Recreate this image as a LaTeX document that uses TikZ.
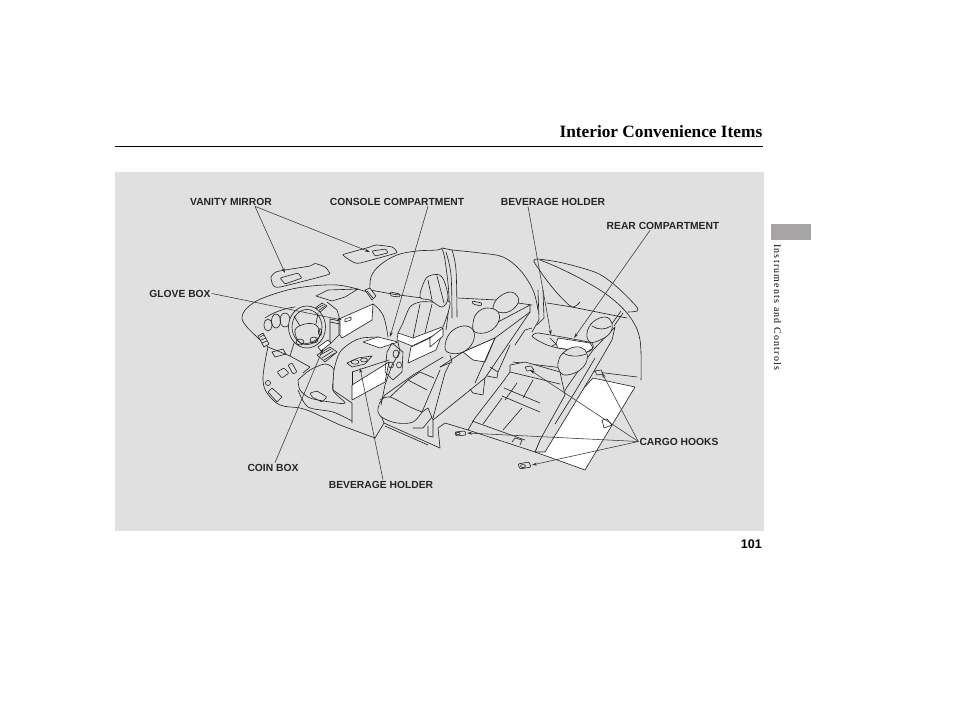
\documentclass[tikz,border=0pt]{standalone}
\usepackage{fontspec}
\setmainfont{Liberation Serif}
\newfontfamily\labelfont{Liberation Sans}
\newfontfamily\tabfont[LetterSpace=12]{Liberation Serif}
\usetikzlibrary{arrows.meta}
\definecolor{panelgray}{HTML}{E0E0E0}
\definecolor{tabgray}{HTML}{A6A4A4}
\tikzset{
  carline/.style={draw=black!88, line width=.6pt, line join=round, line cap=round},
  carfill/.style={carline, fill=panelgray},
  whitefill/.style={carline, fill=white},
  leader/.style={draw=black!80, line width=.55pt, -{Stealth[length=5pt,width=3pt]}},
  leadlabel/.style={font=\labelfont\bfseries\fontsize{10.3}{12}\selectfont, text=black!85, inner sep=1pt}
}
\begin{document}
\begin{tikzpicture}[x=1pt,y=-1pt]
  \useasboundingbox (0,0) rectangle (954,710);
  % page furniture
  \fill[panelgray] (115,172) rectangle (764,531);
  \draw[line width=.7pt] (115,146.8) -- (763,146.8);
  \fill[tabgray] (771,224) rectangle (811,240);
  \node[anchor=base east, inner sep=0pt, font=\bfseries\fontsize{17.3}{20}\selectfont] (title) at (762.5,137.3) {Interior Convenience Items};
  \node[anchor=west, rotate=-90, inner sep=0pt, font=\tabfont\fontsize{10}{12}\selectfont] (tabtext) at (777.5,244) {Instruments and Controls};
  \node[anchor=base east, inner sep=0pt, font=\labelfont\bfseries\fontsize{12.5}{14}\selectfont] (pageno) at (762,548) {101};

  % sun visors
  \draw[carfill] plot[smooth cycle, tension=.35] coordinates {(271,277) (276,272) (285,270) (310,266) (315,263.5) (325,267) (329,272) (327,275) (280,287) (273,285)};
  \draw[carline, rounded corners=1pt] (280,278) -- (298,273) -- (302,278) -- (285,284) -- cycle;
  \draw[carfill] plot[smooth cycle, tension=.35] coordinates {(343,255) (352,252) (370,247) (376,245) (392,247) (397,252) (393,254) (360,263) (353,262)};
  \draw[carline, rounded corners=1pt] (372,251) -- (386,249) -- (388,253) -- (375,256) -- cycle;

  % roof, pillars and hatch
  \draw[carline] plot[smooth, tension=.6] coordinates {(370,292) (371,277) (380,265) (397,255) (417,251) (437,250) (442,248)};
  \draw[carline] plot[smooth, tension=.6] coordinates {(452,250) (480,253) (503,257) (520,270) (533,290) (538,310)};
  \draw[carline] (442,248) -- (452,250);
  \draw[carline] plot[smooth, tension=.6] coordinates {(442,249) (445,260) (449,298) (446,330)};
  \draw[carline] plot[smooth, tension=.6] coordinates {(452,250) (456,270) (457,317)};
  \draw[carline] plot[smooth, tension=.6] coordinates {(446,252) (451,275) (452,318)};
  \draw[carline] (370,290) -- (392,294) -- (422,298);
  \draw[carline] (458,298) -- (497,300) -- (532,305);
  \draw[carline, rounded corners=1pt] (390,292) -- (400,294) -- (400,297) -- (391,296) -- cycle;
  \draw[carline, rounded corners=1pt] (472,301) -- (482,303) -- (481,306) -- (473,304) -- cycle;
  \draw[carline] (538,290) -- (539,320) -- (532,332);
  \draw[carline] (543,290) -- (544,318) -- (537,325);
  \draw[carline] plot[smooth, tension=.5] coordinates {(534,262) (537,259) (563,263) (597,273) (617,287) (636,306) (637,311) (628,312)};
  \draw[carline] plot[smooth, tension=.5] coordinates {(534,262) (545,278) (558,294) (572,307) (580,302)};
  \draw[carline] plot[smooth, tension=.6] coordinates {(540,260) (557,267) (583,280) (610,297) (630,317) (640,340) (641,380)};
  \draw[carline] (547,303) -- (572,307) -- (627,318);
  \draw[carline] (611,325) -- (621,311);
  \draw[carline] (614,326) -- (623,313);

  % dashboard
  \draw[carline] plot[smooth, tension=.6] coordinates {(268,347) (257,337) (247,327) (242,318) (247,308) (263,298) (297,288) (337,285) (367,292)};
  \draw[carline] (316,296) -- (328,290) -- (358,289) -- (345,297) -- (332,301) -- cycle;
  \draw[carfill] (365,290) -- (370,288) -- (376,296) -- (372,300) -- cycle;
  \draw[carline] (367,291) -- (373,298);
  \draw[carline] plot[smooth, tension=.6] coordinates {(268,347) (265,362) (263,380) (267,393) (280,405) (300,408) (312,412)};
  \draw[carline] (268,347) -- (290,356) -- (310,367) -- (303,373);
  \draw[carline] (290,356) -- (295,340);
  \draw[carline] (312,412) -- (340,425) -- (375,438) -- (384,423) -- (380,413);
  \draw[carline] (384,423) -- (440,448);
  \draw[carline] (385,426) -- (428,445);
  \draw[carline] (265,318) .. controls (272,313) and (285,308) .. (295,307);
  \draw[carline] (268,325) ellipse [x radius=4pt, y radius=6pt];
  \draw[carline] (276,321) ellipse [x radius=4.5pt, y radius=7pt];
  \draw[carline] (285,320) ellipse [x radius=5pt, y radius=7pt];
  \draw[carfill] (258,336) -- (263,333) -- (269,344) -- (264,347) -- cycle;
  \draw[carline] (260,337) -- (264,335) (261,340) -- (266,338) (262,343) -- (267,341);
  \draw[carfill] (314,309) -- (322,303) -- (327,306) -- (319,313) -- cycle;
  \draw[carline] (316,309) -- (323,305) (318,311) -- (325,306);
  \draw[carline] (327,302) -- (337,310) -- (340,320);
  \draw[carline] (272,352) -- (283,349) -- (286,354) -- (275,357) -- cycle;
  \draw[carfill, rounded corners=1pt] (277,372) -- (284,368) -- (289,373) -- (282,378) -- cycle;
  \draw[carfill, rounded corners=1pt] (288,365) -- (292,363) -- (297,372) -- (293,374) -- cycle;
  \draw[carfill] (268,392) -- (272,388) -- (282,397) -- (277,402) -- cycle;
  \draw[carline] (268,383) circle (2.5pt);

  % steering wheel
  \draw[carfill] (307,327) ellipse [x radius=18.5pt, y radius=21pt];
  \draw[carline] (307,327) ellipse [x radius=15pt, y radius=17.5pt];
  \draw[carline] plot[smooth cycle, tension=.6] coordinates {(295,330) (305,324) (316,325) (320,335) (312,342) (300,343)};
  \draw[carline] (300,342) ellipse [x radius=4pt, y radius=3pt];
  \draw[carline] (314,340) ellipse [x radius=4pt, y radius=3pt];
  \draw[carline] (320,332) ellipse [x radius=1.6pt, y radius=3.5pt];
  \draw[carline] (294,316) -- (300,326) (318,313) -- (316,324);

  % glove box, console and coin box
  \draw[whitefill] (339,319) -- (373,304) -- (372,320) -- (342,338) -- (339,334) -- cycle;
  \draw[carline] (330,319) -- (340,321) -- (340,334) -- (330,344) -- cycle;
  \draw[carline] (330,322) -- (340,324);
  \draw[carline] (345,319) -- (351,317) -- (351,320) -- (345,322) -- cycle;
  \draw[carfill] (317,355) -- (330,347) -- (337,352) -- (325,362) -- cycle;
  \draw[carline] (320,355) -- (331,349) (322,358) -- (333,351) (324,360) -- (335,353);
  \draw[whitefill] (318,347) -- (328,340) -- (331,343) -- (321,351) -- cycle;

  % front seats
  \draw[carfill] plot[smooth, tension=.5] coordinates {(298,380) (300,390) (310,398) (330,402) (345,403) (333,390) (334,370) (325,364) (310,370) (298,380)};
  \draw[carline] plot[smooth, tension=.5] coordinates {(298,390) (308,407) (333,412) (352,421)};
  \draw[carline, rounded corners=1pt] (310,393) -- (317,391) -- (327,397) -- (322,402) -- (312,397) -- cycle;
  \draw[carfill] plot[smooth, tension=.5] coordinates {(333,390) (334,370) (340,352) (352,342) (362,338) (378,337)};
  \draw[carline] (333,390) -- (352,403) -- (352,423);
  \draw[carline] plot[smooth, tension=.7] coordinates {(373,304) (383,315) (388,337)};
  \draw[whitefill] (352,385) -- (389,362) -- (385,382) -- (352,400) -- cycle;
  \draw[carline] (352,372) -- (389,360);
  \draw[carline] (352,372) -- (352,385);
  \draw[whitefill] (363,342) -- (378,337) -- (398,342) -- (380,348) -- cycle;
  \draw[carfill] (347,363) -- (358,358) -- (372,356) -- (365,364) -- (352,367) -- cycle;
  \draw[carline] (355,362) ellipse [x radius=4pt, y radius=2.2pt];
  \draw[carline] (364,360) ellipse [x radius=3.5pt, y radius=2pt];
  \draw[carline] (398,342) -- (400,352) -- (392,365) -- (385,385) -- (380,410);
  % passenger seat
  \draw[carfill] plot[smooth, tension=.5] coordinates {(403,323) (410,307) (420,302) (433,302) (450,302) (443,327)};
  \draw[carfill] plot[smooth cycle, tension=.6] coordinates {(420,297) (425,280) (432,275) (442,277) (448,297) (442,307) (430,300)};
  \draw[carline] (428,280) -- (432,300) (437,276) -- (444,303);
  \draw[whitefill] (398,333) -- (413,338) -- (442,327) -- (443,331) -- (412,346) -- (397,340) -- cycle;
  \draw[whitefill] (411,347) -- (443,332) -- (436,350) -- (408,363) -- cycle;
  \draw[carline] (403,323) -- (398,333);
  \draw[carline] (420,304) -- (413,338) (432,304) -- (425,333);
  \draw[carline] (392,343) -- (403,352) -- (402,372) -- (393,380) -- (385,372) -- (387,352) -- cycle;
  \draw[carline] (396,354) ellipse [x radius=3pt, y radius=4pt];
  \draw[carline] (399,365) ellipse [x radius=2.5pt, y radius=3pt];
  \draw[carline] (391,365) ellipse [x radius=2.5pt, y radius=3pt];
  \draw[carline] (379,404) -- (385,395) -- (413,375) -- (443,357);
  \draw[carfill] plot[smooth, tension=.6] coordinates {(379,405) (378,412) (383,418) (397,423) (413,422) (422,412)};
  \draw[carline] plot[smooth, tension=.5] coordinates {(380,400) (390,397) (410,407) (422,412)};
  \draw[carline] (390,397) -- (408,380) -- (427,390) (408,380) -- (420,372) -- (434,378);
  \draw[carline] (422,412) -- (428,408) -- (433,420) -- (433,437) -- (428,436) -- (428,426);
  \draw[carline] (413,428) -- (423,428) -- (432,417);
  \draw[carline] (433,418) -- (445,373) -- (450,363);
  \draw[carline] (422,412) -- (440,370);

  % second row
  \draw[whitefill] (430,338) -- (443,328) -- (443,336) -- (430,347) -- cycle;
  \draw[carline] (433,420) -- (485,378) -- (530,312);
  \draw[carline] (440,367) -- (463,352) -- (495,338) -- (530,312);
  \draw[whitefill] (463,352) -- (495,338) -- (485,362) -- (473,360) -- cycle;
  \draw[carline] (495,338) -- (475,383) (485,378) -- (483,395) -- (473,393) -- (470,389);
  \draw[carline] (510,345) -- (498,372) -- (490,367) (498,372) -- (497,378) -- (487,376);
  \draw[carline] (515,345) -- (525,330) -- (532,328);
  \draw[carfill] plot[smooth cycle, tension=.7] coordinates {(493,308) (498,298) (510,292) (518,297) (517,305) (508,312) (498,312)};
  \draw[carfill] plot[smooth cycle, tension=.7] coordinates {(473,323) (477,313) (487,308) (498,312) (498,323) (488,332) (475,332)};
  \draw[carfill] plot[smooth cycle, tension=.7] coordinates {(445,347) (450,333) (463,326) (473,330) (473,342) (463,352) (450,353)};
  \draw[carline] (498,322) -- (530,305) -- (530,312);
  \draw[carline] (450,355) -- (452,362) -- (440,367);

  % third row and cargo area
  \draw[whitefill] (593,378) -- (635,387) -- (585,470) -- (535,452) -- (573,400) -- cycle;
  \draw[carline] (513,362) -- (597,372) -- (637,377);
  \draw[carline] (602,420) -- (607,419) -- (612,425) -- (604,428) -- cycle;
  \draw[carfill] plot[smooth cycle, tension=.3] coordinates {(532,336) (538,333) (573,339) (592,343) (593,348) (587,352) (558,348) (547,345) (537,340)};
  \draw[whitefill] (558,338) -- (590,343) -- (593,348) -- (587,352) -- (558,348) -- (556,344) -- cycle;
  \draw[carline] (550,338) -- (556,344) -- (552,346);
  \draw[carfill] (535,452) -- (547,423) -- (567,387) -- (593,350) -- (615,327) -- (612,340) -- (590,378) -- (545,452) -- cycle;
  \draw[carline] (555,424) -- (575,392) -- (595,358);
  \draw[carfill] (468,430) -- (475,418) -- (502,383) -- (510,372) -- (510,365) -- (525,362) -- (560,372) -- (565,395) -- (540,440) -- (535,452) -- cycle;
  \draw[carline] (510,372) -- (560,384);
  \draw[carline] (472,421) -- (525,440) (504,388) -- (540,403) (502,396) -- (540,412);
  \draw[carline] (483,424) -- (502,398) (503,430) -- (522,408) (517,383) -- (505,400) (533,380) -- (523,398);
  \draw[carline] (512,442) -- (515,438) -- (522,440) -- (520,445);
  \draw[carfill] plot[smooth cycle, tension=.7] coordinates {(558,363) (563,353) (575,347) (585,350) (587,360) (580,370) (567,375) (560,372)};
  \draw[carfill] plot[smooth cycle, tension=.7] coordinates {(587,333) (593,322) (605,317) (612,323) (610,333) (600,340) (590,342)};
  \draw[carline] (592,326) .. controls (598,330) and (605,330) .. (611,326);
  \draw[carline] (563,353) .. controls (570,357) and (578,357) .. (586,354);

  % floor
  \draw[carline] (440,448) -- (438,428) -- (445,423) -- (468,430);
  % cargo hooks
  \draw[carfill, rounded corners=1pt] (455,432) -- (465,431) -- (466,435) -- (456,436) -- cycle;
  \draw[carline] (458,433.5) ellipse [x radius=2pt, y radius=1.2pt];
  \draw[carfill, rounded corners=1pt] (518,464) -- (529,462) -- (531,467) -- (520,469) -- cycle;
  \draw[carline] (523,466) ellipse [x radius=2.5pt, y radius=1.5pt];
  \draw[carfill] (525,367) -- (531,366) -- (534,370) -- (527,371) -- cycle;
  \draw[carfill] (595,371) -- (601,370) -- (603,374) -- (597,375) -- cycle;

  % targets of the leaders
  \coordinate (visorleft) at (285,273);
  \coordinate (visorright) at (370,252);
  \coordinate (consolebin) at (390,337);
  \coordinate (rearholder) at (551,335);
  \coordinate (rearbin) at (574,338);
  \coordinate (glovelid) at (342,320);
  \coordinate (coinslot) at (323,349);
  \coordinate (frontholder) at (360,368);
  \coordinate (hookfloor) at (530,370);
  \coordinate (hookright) at (602,373);
  \coordinate (hookleft) at (467,433);
  \coordinate (hooklow) at (532,465);

  % labels
  \node[leadlabel] (vanity) at (231,201.5) {VANITY MIRROR};
  \node[leadlabel] (console) at (397,201.5) {CONSOLE COMPARTMENT};
  \node[leadlabel] (bevtop) at (553,201.5) {BEVERAGE HOLDER};
  \node[leadlabel] (rearcomp) at (663,225.5) {REAR COMPARTMENT};
  \node[leadlabel] (glove) at (180,293.5) {GLOVE BOX};
  \node[leadlabel] (coin) at (273,467.5) {COIN BOX};
  \node[leadlabel] (bevlow) at (381,484.5) {BEVERAGE HOLDER};
  \node[leadlabel] (cargo) at (679,441.5) {CARGO HOOKS};

  % leaders
  \draw[leader] ([xshift=24pt]vanity.south) -- (visorleft);
  \draw[leader] ([xshift=24pt]vanity.south) -- (visorright);
  \draw[leader] ([xshift=31pt]console.south) -- (consolebin);
  \draw[leader] ([xshift=-25pt]bevtop.south) -- (rearholder);
  \draw[leader] ([xshift=-13pt]rearcomp.south) -- (rearbin);
  \draw[leader] (glove.east) -- (glovelid);
  \draw[leader] ([xshift=2pt]coin.north) -- (coinslot);
  \draw[leader] ([xshift=2pt]bevlow.north) -- (frontholder);
  \draw[leader] (cargo.west) -- (hookfloor);
  \draw[leader] (cargo.west) -- (hookright);
  \draw[leader] (cargo.west) -- (hookleft);
  \draw[leader] (cargo.west) -- (hooklow);
\end{tikzpicture}
\end{document}
